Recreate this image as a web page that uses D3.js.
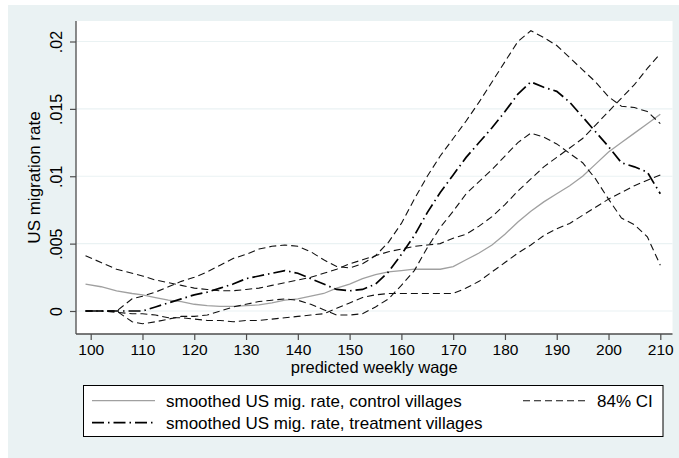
<!DOCTYPE html>
<html>
<head>
<meta charset="utf-8">
<script src="https://cdn.jsdelivr.net/npm/d3@7"></script>
<style>
  html, body { margin: 0; padding: 0; background: #ffffff; }
  svg { display: block; font-family: "Liberation Sans", Arial, Helvetica, sans-serif; }
</style>
</head>
<body>
<svg id="chart" width="679" height="458"></svg>
<script>
// ---------------- DATA ----------------
const wage = [99,102,105,108,110,112.5,115,117.5,120,122.5,125,127.5,130,132.5,135,137.5,140,142.5,145,147.5,150,152.5,155,157.5,160,162.5,165,167.5,170,172.5,175,177.5,180,182.5,185,187.5,190,192.5,195,197.5,200,202.5,205,207.5,210];

const controlMean = [.0020,.0018,.0015,.0013,.0012,.0010,.0008,.0007,.0005,.0004,.00035,.00035,.0004,.00045,.0006,.0008,.0009,.0011,.0013,.0017,.0020,.0024,.0027,.0029,.0030,.0031,.0031,.0031,.0033,.0038,.0043,.0049,.0057,.0066,.0074,.0081,.0087,.0093,.0100,.0109,.0118,.0125,.0132,.0139,.0146];

const controlUpper = [.0041,.0036,.0031,.0028,.0026,.0023,.0021,.0019,.0017,.0016,.0015,.0015,.0016,.0017,.0019,.0021,.0023,.0025,.0028,.0031,.0035,.0038,.0041,.0044,.0046,.0048,.0049,.0050,.0054,.0057,.0063,.0070,.0079,.0089,.0098,.0107,.0114,.0121,.0128,.0138,.0148,.0158,.0168,.0180,.0191];

const controlLower = [0,0,-.0001,-.0002,-.0002,-.0003,-.0005,-.0005,-.0006,-.0007,-.0007,-.0008,-.0007,-.0007,-.0006,-.0005,-.0004,-.0003,-.0002,.0002,.0006,.0010,.0012,.0013,.0013,.0013,.0013,.0013,.0013,.0017,.0022,.0029,.0036,.0043,.0049,.0056,.0061,.0065,.0071,.0077,.0083,.0088,.0093,.0097,.0101];

const treatMean = [0,0,0,0,0,.0003,.0006,.0009,.0012,.0014,.0017,.0020,.0024,.0026,.0028,.0030,.0028,.0024,.0020,.0016,.0015,.0016,.0020,.0029,.0042,.0056,.0073,.0088,.0101,.0114,.0125,.0136,.0148,.0161,.0170,.0166,.0163,.0155,.0144,.0133,.0122,.0110,.0107,.0103,.0087];

const treatUpper = [0,0,0,.0009,.0011,.0014,.0018,.0022,.0025,.0029,.0034,.0039,.0042,.0046,.0048,.0049,.0048,.0044,.0038,.0033,.0032,.0035,.0041,.0051,.0065,.0083,.0100,.0115,.0128,.0141,.0155,.0170,.0185,.0200,.0208,.0203,.0197,.0188,.0179,.0170,.0159,.0152,.0151,.0148,.0139];

const treatLower = [0,0,0,-.0008,-.00095,-.0008,-.0006,-.0004,-.0004,-.0003,0,.0003,.0005,.0007,.0008,.0009,.0008,.0005,.0001,-.0003,-.0003,-.0002,.0003,.0009,.0019,.0030,.0047,.0062,.0074,.0087,.0096,.0105,.0115,.0125,.0132,.0129,.0124,.0117,.0110,.0098,.0083,.0069,.0064,.0055,.0034];

const xTicks = [100,110,120,130,140,150,160,170,180,190,200,210];
const yTicks = [0,.005,.01,.015,.02];

const xTitle = "predicted weekly wage";
const yTitle = "US migration rate";
const legendLabels = ["smoothed US mig. rate, control villages", "smoothed US mig. rate, treatment villages", "84% CI"];

// ---------------- LAYOUT ----------------
const svg = d3.select("#chart");
const plot = {left: 76, right: 672.5, top: 21, bottom: 334};

const x = d3.scaleLinear().domain([100, 210]).range([90.7, 660.3]);
const y = d3.scaleLinear().domain([0, 0.02]).range([311, 41.5]);

const bg = "#EAF2F3";
const axisColor = "#4d4d4d";

// graph region
svg.append("rect").attr("x", 8).attr("y", 5).attr("width", 671).attr("height", 453).attr("fill", bg);
// plot region
svg.append("rect").attr("x", plot.left).attr("y", plot.top)
  .attr("width", plot.right - plot.left).attr("height", plot.bottom - plot.top).attr("fill", "#ffffff");

// grid lines
svg.append("g").selectAll("line").data(yTicks).join("line")
  .attr("x1", plot.left).attr("x2", plot.right)
  .attr("y1", d => y(d)).attr("y2", d => y(d))
  .attr("stroke", bg).attr("stroke-width", 1.2);

// ---------------- LINES ----------------
function series(vals) { return wage.map((w, i) => ({w: w, v: vals[i]})); }
const line = d3.line().x(d => x(d.w)).y(d => y(d.v)).curve(d3.curveLinear);

const ciDash = "7,4";
const ddDash = "12,4,1.5,4";

const g = svg.append("g");
[controlUpper, controlLower].forEach(s => {
  g.append("path").datum(series(s)).attr("d", line)
    .attr("fill", "none").attr("stroke", "#111").attr("stroke-width", 1.1).attr("stroke-dasharray", ciDash);
});
g.append("path").datum(series(controlMean)).attr("d", line)
  .attr("fill", "none").attr("stroke", "#a0a0a0").attr("stroke-width", 1.3);
[treatUpper, treatLower].forEach(s => {
  g.append("path").datum(series(s)).attr("d", line)
    .attr("fill", "none").attr("stroke", "#111").attr("stroke-width", 1.1).attr("stroke-dasharray", ciDash);
});
g.append("path").datum(series(treatMean)).attr("d", line)
  .attr("fill", "none").attr("stroke", "#000").attr("stroke-width", 1.7).attr("stroke-dasharray", ddDash);

// ---------------- AXES ----------------
const yAxis = svg.append("g").attr("transform", `translate(${plot.left},0)`)
  .call(d3.axisLeft(y).tickValues(yTicks).tickSize(6).tickSizeOuter(0)
    .tickFormat(d => d === 0 ? "0" : String(d).replace(/^0/, "")));
yAxis.select(".domain").remove();
yAxis.selectAll(".tick line").attr("stroke", axisColor).attr("stroke-width", 1.2);
yAxis.selectAll(".tick text")
  .attr("transform", "rotate(-90)").attr("x", 0).attr("y", -14).attr("dy", 0)
  .attr("text-anchor", "middle").attr("font-size", 16).attr("fill", "#000")
  .attr("font-family", "Liberation Sans, Arial, sans-serif");

const xAxis = svg.append("g").attr("transform", `translate(0,${plot.bottom})`)
  .call(d3.axisBottom(x).tickValues(xTicks).tickSize(6).tickSizeOuter(0).tickFormat(d3.format("d")));
xAxis.select(".domain").remove();
xAxis.selectAll(".tick line").attr("stroke", axisColor).attr("stroke-width", 1.2);
xAxis.selectAll(".tick text")
  .attr("y", 20.5).attr("dy", 0).attr("font-size", 15.5).attr("fill", "#000")
  .attr("font-family", "Liberation Sans, Arial, sans-serif");

// axis lines
svg.append("line").attr("x1", plot.left).attr("x2", plot.left).attr("y1", plot.top).attr("y2", plot.bottom)
  .attr("stroke", axisColor).attr("stroke-width", 1.3);
svg.append("line").attr("x1", plot.left).attr("x2", plot.right).attr("y1", plot.bottom).attr("y2", plot.bottom)
  .attr("stroke", axisColor).attr("stroke-width", 1.3);

// axis titles
svg.append("text").attr("x", (plot.left + plot.right) / 2).attr("y", 373)
  .attr("text-anchor", "middle").attr("font-size", 16.5).text(xTitle);
svg.append("text").attr("transform", `translate(40,${(plot.top + plot.bottom) / 2}) rotate(-90)`)
  .attr("text-anchor", "middle").attr("font-size", 17).text(yTitle);

// ---------------- LEGEND ----------------
const leg = svg.append("g");
leg.append("rect").attr("x", 83.5).attr("y", 385.5).attr("width", 579.5).attr("height", 51)
  .attr("fill", "#fff").attr("stroke", "#000").attr("stroke-width", 1);
leg.append("line").attr("x1", 92).attr("x2", 155).attr("y1", 400.7).attr("y2", 400.7)
  .attr("stroke", "#a0a0a0").attr("stroke-width", 1.3);
leg.append("text").attr("x", 166).attr("y", 406.5).attr("font-size", 17).text(legendLabels[0]);
leg.append("line").attr("x1", 92).attr("x2", 155).attr("y1", 422.7).attr("y2", 422.7)
  .attr("stroke", "#000").attr("stroke-width", 1.7).attr("stroke-dasharray", ddDash);
leg.append("text").attr("x", 166).attr("y", 429).attr("font-size", 17).text(legendLabels[1]);
leg.append("line").attr("x1", 523).attr("x2", 588).attr("y1", 400.7).attr("y2", 400.7)
  .attr("stroke", "#111").attr("stroke-width", 1.1).attr("stroke-dasharray", ciDash);
leg.append("text").attr("x", 597).attr("y", 406.5).attr("font-size", 17).text(legendLabels[2]);
</script>
</body>
</html>
